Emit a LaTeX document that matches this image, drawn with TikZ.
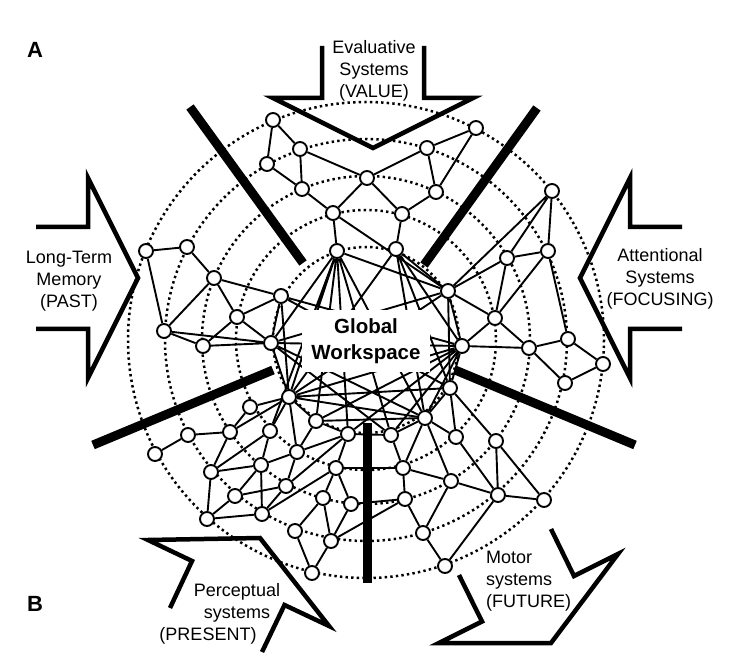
\documentclass[tikz,border=0pt]{standalone}
\usepackage{fontspec}
\setmainfont{Liberation Sans}
\usetikzlibrary{backgrounds}

\begin{document}
\begin{tikzpicture}[
  x=1pt, y=-1pt,
  unit/.style={
    circle, draw, fill=white,
    line width=1.9pt, minimum size=14pt, inner sep=0pt
  },
  link/.style={line width=1.9pt},
  ring/.style={line width=2.5pt, dash pattern=on 2.4pt off 3.2pt},
  bar/.style={line width=9pt},
  sysarrow/.style={line width=4.5pt, line join=miter},
  label/.style={align=center, inner sep=0pt, font=\fontsize{18}{22}\selectfont}
]
  \useasboundingbox (0,0) rectangle (734,660);

  % Dotted rings
  \begin{scope}[on background layer]
    \foreach \r in {93,130,164,201,238}
      \draw[ring] (366,340) circle[radius=\r];
  \end{scope}

  % Workspace box
  \node[fill=white, align=center, inner sep=0pt,
        minimum width=128pt, minimum height=62pt,
        font=\bfseries\fontsize{20.5}{26}\selectfont]
        (gw) at (366,341) {Global\\Workspace};

  % Separators
  \draw[bar] (190,107) -- (303,263);
  \draw[bar] (537,108) -- (424,265);
  \draw[bar] (273,370) -- (93,445);
  \draw[bar] (455,370) -- (635,445);
  \draw[bar] (367,423) -- (367,583);

  % Evaluative units
  \node[unit] (v1) at (273,120) {};  \node[unit] (v2) at (300,149) {};
  \node[unit] (v3) at (267,164) {};  \node[unit] (v4) at (302,189) {};
  \node[unit] (v5) at (367,178) {};  \node[unit] (v6) at (333,213) {};
  \node[unit] (v7) at (427,148) {};  \node[unit] (v8) at (476,128) {};
  \node[unit] (v9) at (436,192) {};  \node[unit] (v10) at (402,214) {};

  % Memory units
  \node[unit] (m1) at (146,251) {};  \node[unit] (m2) at (187,247) {};
  \node[unit] (m3) at (214,278) {};  \node[unit] (m4) at (237,317) {};
  \node[unit] (m5) at (164,331) {};  \node[unit] (m6) at (203,346) {};

  % Attentional units
  \node[unit] (a1) at (552,191) {};  \node[unit] (a2) at (507,258) {};
  \node[unit] (a3) at (548,251) {};  \node[unit] (a4) at (495,318) {};
  \node[unit] (a5) at (529,348) {};  \node[unit] (a6) at (568,339) {};
  \node[unit] (a7) at (603,364) {};  \node[unit] (a8) at (565,383) {};

  % Motor units
  \node[unit] (f1) at (456,437) {};  \node[unit] (f2) at (496,441) {};
  \node[unit] (f3) at (403,468) {};  \node[unit] (f4) at (451,481) {};
  \node[unit] (f5) at (405,499) {};  \node[unit] (f6) at (498,495) {};
  \node[unit] (f7) at (544,500) {};  \node[unit] (f8) at (423,533) {};
  \node[unit] (f9) at (445,566) {};

  % Perceptual units
  \node[unit] (p1) at (250,407) {};  \node[unit] (p2) at (230,432) {};
  \node[unit] (p3) at (188,435) {};  \node[unit] (p4) at (155,454) {};
  \node[unit] (p5) at (270,431) {};  \node[unit] (p6) at (297,452) {};
  \node[unit] (p7) at (211,472) {};  \node[unit] (p8) at (261,465) {};
  \node[unit] (p9) at (336,468) {};  \node[unit] (p10) at (286,486) {};
  \node[unit] (p11) at (235,496) {}; \node[unit] (p12) at (323,498) {};
  \node[unit] (p13) at (351,504) {}; \node[unit] (p14) at (207,519) {};
  \node[unit] (p15) at (262,514) {}; \node[unit] (p16) at (295,531) {};
  \node[unit] (p17) at (331,541) {}; \node[unit] (p18) at (312,573) {};

  % Workspace units (round the box)
  \node[unit] (g1) at (337,251) {};  \node[unit] (g2) at (396,249) {};
  \node[unit] (g3) at (448,291) {};  \node[unit] (g4) at (462,346) {};
  \node[unit] (g5) at (450,388) {};  \node[unit] (g6) at (425,418) {};
  \node[unit] (g7) at (391,435) {};  \node[unit] (g8) at (348,434) {};
  \node[unit] (g9) at (316,421) {};  \node[unit] (g10) at (289,397) {};
  \node[unit] (g11) at (271,343) {}; \node[unit] (g12) at (281,296) {};

  % Connections
  \begin{scope}[on background layer]
    \draw[link] (v1) -- (v2) (v1) -- (v3) (v3) -- (v4) (v2) -- (v4)
      (v2) -- (v5) (v4) -- (v6) (v5) -- (v6) (v5) -- (v7) (v5) -- (v10)
      (v7) -- (v8) (v7) -- (v9) (v8) -- (v9) (v9) -- (v10)
      (v6) -- (g1) (v10) -- (g2) (v6) -- (g3);
    \draw[link] (m1) -- (m2) (m1) -- (m5) (m2) -- (m3) (m3) -- (g12)
      (m3) -- (m5) (m3) -- (m4) (m4) -- (g12) (m4) -- (g11) (m4) -- (m6)
      (m5) -- (m6) (m5) -- (g11) (m6) -- (g11) (g12) -- (g11);
    \draw[link] (g3) -- (a1) (g3) -- (a2) (g3) -- (a4) (g3) -- (g4)
      (a2) -- (a3) (a2) -- (a1) (a2) -- (a4) (a3) -- (a1) (a3) -- (a4)
      (a3) -- (a6) (a4) -- (g4) (a4) -- (a5) (g4) -- (a5) (a5) -- (a6)
      (a5) -- (a8) (a6) -- (a7) (a7) -- (a8) (g4) -- (g5) (g3) -- (g5);
    \draw[link] (g5) -- (f1) (g5) -- (f2) (g5) -- (g6) (g6) -- (f1)
      (g6) -- (f3) (g6) -- (f4) (g7) -- (f3) (f3) -- (f4) (f3) -- (f5)
      (f1) -- (f6) (f2) -- (f6) (f2) -- (f7) (f4) -- (f6) (f6) -- (f7)
      (f4) -- (f8) (f5) -- (f8) (f6) -- (f9) (f8) -- (f9)
      (p9) -- (f3) (g8) -- (g7) (g9) -- (g6) (p13) -- (f5) (p17) -- (f5)
      (g4) -- (g6) (g4) -- (g7) (g6) -- (g7);
    \draw[link] (p4) -- (p3) (p3) -- (p2) (p2) -- (p1) (p1) -- (g10)
      (p2) -- (p7) (p2) -- (g10) (p7) -- (p8) (p7) -- (p5) (p5) -- (g10)
      (p5) -- (p8) (g10) -- (p6) (g10) -- (g9) (g9) -- (p6) (g9) -- (g8)
      (p6) -- (p8) (p6) -- (p10) (p6) -- (g8) (p8) -- (p11) (p8) -- (p15)
      (p7) -- (p14) (p11) -- (p14) (p11) -- (p10) (p14) -- (p15)
      (p10) -- (p15) (p15) -- (p9) (p10) -- (g8) (p9) -- (g8)
      (p9) -- (p12) (p9) -- (p13) (p12) -- (p16) (p12) -- (p17)
      (p13) -- (p17) (p16) -- (p18) (p17) -- (p18)
      (g10) -- (g11) (g10) -- (g12);
    % long-range links through the workspace
    \draw[link] (g1) -- (p5) (g1) -- (g10) (g1) -- (g9) (g1) -- (g8)
      (g1) -- (g7) (g1) -- (g6) (g1) -- (g3) (g1) -- (g11)
      (g2) -- (g10) (g2) -- (g6) (g2) -- (g5) (g2) -- (g4) (g2) -- (g3)
      (g11) -- (g4) (g11) -- (g6) (g11) -- (g7) (g11) -- (g3)
      (g12) -- (g4) (g12) -- (g5)
      (g10) -- (g4) (g10) -- (g3) (g10) -- (g5) (g10) -- (g6)
      (g4) -- (g8) (g4) -- (g9);
  \end{scope}

  % System arrows
  \draw[sysarrow] (322,46) -- (322,98) -- (273,98) -- (373,148)
    -- (473,98) -- (424,98) -- (424,46);
  \draw[sysarrow] (36,227) -- (88,227) -- (88,178) -- (138,278)
    -- (88,378) -- (88,329) -- (36,329);
  \draw[sysarrow] (682,227) -- (630,227) -- (630,178) -- (580,278)
    -- (630,378) -- (630,329) -- (682,329);
  \draw[sysarrow] (170,608) -- (192,561) -- (148,540) -- (260,538)
    -- (329,626) -- (284.5,605) -- (262,652);
  \draw[sysarrow] (459,575) -- (482,621.5) -- (439,643) -- (551,643)
    -- (618,554) -- (574,576) -- (551,529);

  % Labels
  \node[label] (val) at (374,71) {Evaluative\\Systems\\(VALUE)};
  \node[label] (mem) at (69,281) {Long-Term\\Memory\\(PAST)};
  \node[label] (att) at (660,279) {Attentional\\Systems\\(FOCUSING)};
  \node[label] (per) at (237,614)
    {Perceptual\\systems\hspace*{16pt}\\(PRESENT)\hspace*{58pt}};
  \node[label, align=left, anchor=west] (mot) at (486,581)
    {Motor\\systems\\(FUTURE)};

  \node[font=\bfseries\fontsize{22}{22}\selectfont] (panA) at (35,50) {A};
  \node[font=\bfseries\fontsize{22}{22}\selectfont] (panB) at (35,604) {B};
\end{tikzpicture}
\end{document}
